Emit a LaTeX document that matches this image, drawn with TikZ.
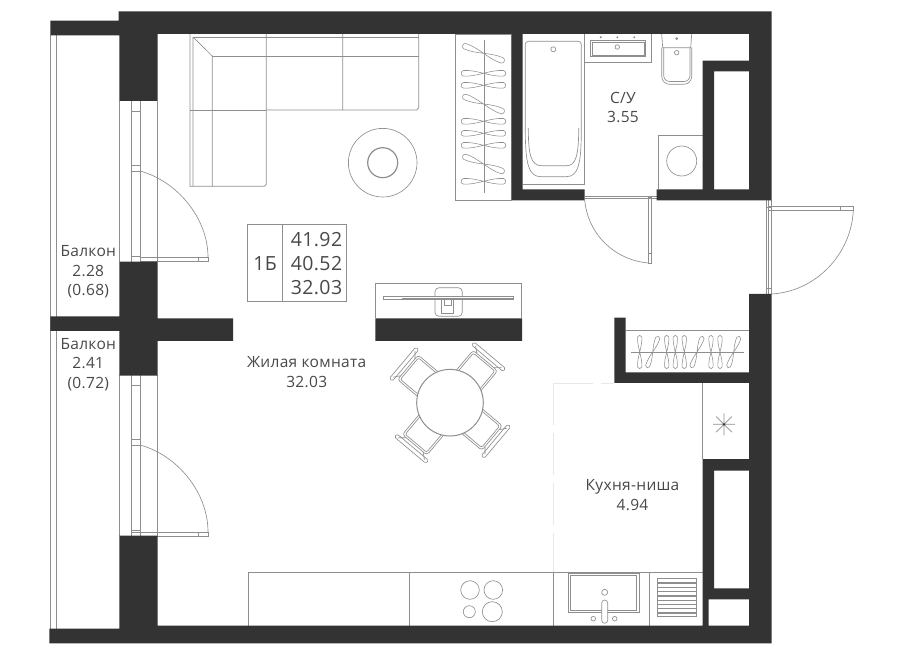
\documentclass[tikz,border=0pt]{standalone}
\usepackage{fontspec}
\setmainfont[LetterSpace=2]{Open Sans}
\definecolor{wallgray}{HTML}{333333}
\definecolor{linegray}{HTML}{8E8E8E}
\definecolor{textgray}{HTML}{484848}
\definecolor{faintgray}{HTML}{E8E8E8}

\tikzset{
	plan/.style={draw=linegray,line width=.65pt},
	label14/.style={text=textgray,font=\fontsize{15.5}{19.6}\selectfont,align=center,inner sep=0pt},
	label18/.style={text=textgray,font=\fontsize{19.5}{24}\selectfont,align=center,inner sep=0pt},
	hanger/.pic={
		\draw[plan,line width=.55pt] (0,0) .. controls (8,-2) and (14,-3.2) .. (20,-2.8) .. controls (23,-2.4) and (23,2.4) .. (20,2.8) .. controls (14,3.2) and (8,2) .. (0,0)
			.. controls (-8,-2) and (-14,-3.2) .. (-20,-2.8) .. controls (-23,-2.4) and (-23,2.4) .. (-20,2.8) .. controls (-14,3.2) and (-8,2) .. (0,0);
	},
	chair/.pic={
		\draw[plan,fill=white,rounded corners=3pt] (22,-16) -- (55,-16) -- (55,16) -- (22,16);
		\draw[plan,rounded corners=2pt] (22,-14) -- (53,-14) -- (53,14) -- (22,14);
		\draw[plan,fill=white,rounded corners=1.5pt] (58,-20.5) rectangle (62,20.5);
		\draw[plan] (55,-11) -- (60,-17) (55,11) -- (60,17);
	}
}

\begin{document}
\begin{tikzpicture}[x=1pt,y=-1pt]
	\useasboundingbox (0,0) rectangle (900,660);

	% balconies and windows
	\draw[plan] (50.3,35) -- (50.3,629) (56.7,35) -- (56.7,629);
	\draw[plan] (119.3,101) -- (119.3,262) (131.7,101) -- (131.7,262) (140.3,101) -- (140.3,262) (157.7,101) -- (157.7,262);
	\draw[plan] (119.3,375) -- (119.3,536) (131.7,375) -- (131.7,536) (140.3,375) -- (140.3,536) (157.7,375) -- (157.7,536);
	\draw[plan] (131.7,111.3) -- (140.3,111.3) (131.7,165.3) -- (140.3,165.3) (131.7,171) -- (140.3,171) (131.7,256.7) -- (140.3,256.7);
	\draw[plan] (131.7,385) -- (140.3,385) (131.7,439.3) -- (140.3,439.3) (131.7,445) -- (140.3,445) (131.7,530) -- (140.3,530) (131.7,532.3) -- (140.3,532.3);

	% doors
	\draw[plan] (140,257.3) rectangle (208,261.7) (198,257.3) -- (198,261.7);
	\draw[plan] (140,171) .. controls (177,181) and (208,218) .. (208,257.3);
	\draw[plan] (140,532) rectangle (208,536) (198,532) -- (198,536);
	\draw[plan] (140,445) .. controls (177,455) and (208,492) .. (208,532);
	\draw[plan] (584.7,196.7) -- (656.7,196.7) (584.7,198.3) -- (656.7,198.3) (648.3,197) rectangle (651.7,263.3) (648.3,253.3) -- (651.7,253.3);
	\draw[plan] (584.7,200) .. controls (588,235) and (615,260) .. (648.3,263);
	\draw[plan] (766,200) -- (766,294) (768.3,200) -- (768.3,294) (771.3,200) -- (771.3,294) (766,207) -- (771,207) (766,288) -- (771,288);
	\draw[plan] (768.3,206.7) -- (853.3,206.7) -- (853.3,210.7) -- (768.3,210.7) (840,206.7) -- (840,210.7);
	\draw[plan] (853.3,210.7) .. controls (851,255) and (815,292) .. (771,294);

	% sofa and rug
	\draw[plan] (190,34) -- (190,186.3) -- (264.3,186.3) to[out=0,in=90] (266.3,184.3) -- (266.3,110);
	\draw[plan] (266.3,110) -- (416.7,110) to[out=0,in=90] (418.7,108) -- (418.7,34);
	\draw[plan] (193,37) -- (418.7,37) (212.3,56) -- (418.7,56) (190,110) -- (266.3,110);
	\draw[plan] (193,37) -- (193,186.3) (212.3,56) -- (212.3,186.3) (266.3,34) -- (266.3,110) (342.7,34) -- (342.7,110) (193,37) -- (212.3,56);
	\node (rug) [circle,plan,minimum size=68.6pt,inner sep=0pt] at (382.7,162.7) {};
	\node (rugcenter) [circle,plan,line width=1.2pt,minimum size=30pt,inner sep=0pt] at (382.7,162.7) {};

	% wardrobe
	\draw[plan] (455.3,34) rectangle (511.7,200.3);
	\draw[plan] (484.3,40) -- (484.3,193);
	\foreach \ypos in {73.3,85.3,121.3,133.3,145.3,181.3}
		\pic at (483.5,\ypos) {hanger};
	\foreach \ypos in {53.3,104,164}
		\pic[rotate=-21] at (483.5,\ypos) {hanger};

	% bathroom
	\draw[plan] (522.7,184.3) -- (584.3,184.3) -- (584.3,34);
	\draw[plan,rounded corners=3pt] (525.3,130) -- (525.3,41.3) -- (581.3,41.3) -- (581.3,130);
	\draw[plan] (525.3,130) .. controls (525.3,165) and (529,176.7) .. (541,176.7) -- (566,176.7) .. controls (578,176.7) and (581.3,165) .. (581.3,130);
	\draw[plan] (528.3,128) .. controls (528.3,155) and (531,165.7) .. (541.7,165.7) -- (566.7,165.7) .. controls (576,165.7) and (578.7,155) .. (578.7,128);
	\node (bathdrain) [circle,plan,minimum size=5pt,inner sep=0pt] at (553.3,49.3) {};
	\draw[plan] (584.3,62.3) -- (651.7,62.3) -- (651.7,34);
	\draw[plan] (590,40.7) rectangle (645.7,56.7) (592,42.3) rectangle (644,55);
	\node (sinkdrain) [circle,plan,minimum size=4.5pt,inner sep=0pt] at (617.3,47) {};
	\foreach \xpos in {600.7,617.3,634.3}
		\fill[linegray] (\xpos,37.3) circle (1.1);
	\draw[plan] (661.7,34) -- (662.7,47.7) -- (690.7,47.7) -- (691.7,34);
	\draw[plan,rounded corners=8pt] (661.7,47.7) -- (661.7,84.3) -- (691.7,84.3) -- (691.7,47.7);
	\draw[plan,rounded corners=6pt] (663.7,47.7) -- (663.7,81.5) -- (690,81.5) -- (690,47.7);
	\fill[linegray] (676.7,38.7) circle (1.5);
	\node (bowldrain) [circle,plan,minimum size=4.5pt,inner sep=0pt] at (676.7,52.7) {};
	\draw[plan] (658.3,189.3) -- (658.3,135) -- (702.7,135);
	\node (washer) [circle,plan,minimum size=30pt,inner sep=0pt] at (681.7,161) {};

	% tv
	\draw[plan] (375.3,318.3) -- (375.3,283.3) -- (521.7,283.3) -- (521.7,318.3);
	\draw[plan,rounded corners=4pt] (435,287.7) rectangle (462.3,316.3);
	\draw[plan] (441.7,299.7) -- (441.7,313.3) -- (453.3,313.3) -- (453.3,299.7) (444,299.7) -- (444,305.7) -- (451,305.7) -- (451,299.7);
	\draw[plan,fill=white] (383.3,296.7) rectangle (513.7,299.7);
	\draw[plan] (401.7,298.2) -- (513.7,298.2);

	% table with chairs
	\foreach \angle in {50,140,230,320}
		\pic[rotate=\angle] at (450,402.7) {chair};
	\node (diningtable) [circle,draw=linegray,line width=1pt,fill=white,minimum size=66.6pt,inner sep=0pt] at (450,402.7) {};

	% closet
	\draw[plan] (625.7,330) -- (749,330);
	\draw[plan] (631,352) -- (744.3,352);
	\foreach \xpos in {639.7,666.7,675.3,684.3,711,720}
		\pic[rotate=90,scale=.75] at (\xpos,352) {hanger};
	\foreach \xpos in {652.7,697,733.7}
		\pic[rotate=70,scale=.75] at (\xpos,352) {hanger};

	% kitchen
	\draw[faintgray,line width=.8pt,dash pattern=on 42pt off 8pt] (553.3,383) -- (553.3,572);
	\draw[faintgray,line width=.8pt,dash pattern=on 40pt off 8pt] (553.3,383) -- (614,383);
	\draw[plan] (702.7,383) -- (702.7,459);
	\draw[plan] (713,424.3) -- (735,424.3) (724,413.3) -- (724,435.3) (716.2,416.5) -- (731.8,432.1) (716.2,432.1) -- (731.8,416.5);
	\fill[wallgray] (724,424.3) circle (1.2);
	\draw[plan] (248.3,625.7) -- (248.3,572.3) -- (703,572.3);
	\draw[plan] (409.3,572.3) -- (409.3,625.7) (553.3,572.3) -- (553.3,625.7) (649.3,572.3) -- (649.3,625.7);
	\node (burner1) [circle,plan,minimum size=18.6pt,inner sep=0pt] at (470,590) {};
	\node (burner2) [circle,plan,minimum size=18.6pt,inner sep=0pt] at (493.3,590) {};
	\node (burner3) [circle,plan,minimum size=12pt,inner sep=0pt] at (469.3,611.7) {};
	\node (burner4) [circle,plan,minimum size=20pt,inner sep=0pt] at (492.3,611.7) {};
	\draw[plan] (568.3,573) rectangle (639.3,612.7) (570.7,575) rectangle (636.7,610.7);
	\draw[plan,fill=white,rounded corners=3pt] (601.7,600) rectangle (607.7,623.3);
	\node (tap) [circle,plan,minimum size=6pt,inner sep=0pt] at (604.7,592.3) {};
	\node (tapl) [circle,plan,minimum size=4.6pt,inner sep=0pt] at (593.3,618.7) {};
	\node (tapr) [circle,plan,minimum size=4.6pt,inner sep=0pt] at (614.7,618.7) {};
	\draw[plan] (657.7,578.7) rectangle (696.7,616.3);
	\foreach \ypos in {583,587.3,591.6,595.9,600.2,604.5,608.8,613.1}
		\draw[linegray,line width=1.3pt] (657.7,\ypos) -- (696.7,\ypos);

	% walls
	\fill[wallgray]
		(118.7,11.5) rectangle (771.7,34)
		(50.3,20.7) rectangle (119.3,35.3)
		(119.3,34) rectangle (157.7,101)
		(119.3,261.7) rectangle (157.7,375.7)
		(50.3,316.3) rectangle (119.3,331)
		(157.7,318.3) rectangle (233,341)
		(119.3,535.7) rectangle (157.7,630)
		(49.3,628.7) rectangle (771.7,643.3)
		(157.7,625.7) rectangle (771.7,629)
		(511.7,34) rectangle (522.7,200.3)
		(511.7,189.3) rectangle (584.7,200.3)
		(749,34) rectangle (771.7,200.3)
		(702.7,60.7) rectangle (749,71.3)
		(702.7,60.7) rectangle (714,200.3)
		(656.7,189.3) rectangle (771.7,200.3)
		(749,294) rectangle (771.7,643)
		(614.3,317.7) rectangle (625.7,383)
		(614.3,372.3) rectangle (749,383)
		(375.3,318.3) rectangle (522,341)
		(702.7,459) rectangle (749,470.5)
		(702.7,459) rectangle (714,599.3)
		(702.7,588.3) rectangle (749,599.3)
		(702.7,588.3) rectangle (708.7,629);

	% labels
	\draw[plan] (247,224.7) rectangle (346.3,301.7) (282.3,224.7) -- (282.3,301.7);
	\node (flattype) [label18] at (265,263.5) {1Б};
	\node (areatotal) [label18] at (316.5,239.8) {41.92};
	\node (arealiving) [label18] at (316.5,263.8) {40.52};
	\node (areaclean) [label18] at (316.5,287.5) {32.03};
	\node (balcony1) [label14] at (88.3,272) {Балкон\\2.28\\(0.68)};
	\node (balcony2) [label14] at (88.3,364.5) {Балкон\\2.41\\(0.72)};
	\node (livingroom) [label14] at (306.7,372.3) {Жилая комната\\32.03};
	\node (bathroom) [label14] at (623,107.5) {С/У\\3.55};
	\node (kitchen) [label14] at (632.5,495.3) {Кухня-ниша\\4.94};
\end{tikzpicture}
\end{document}
